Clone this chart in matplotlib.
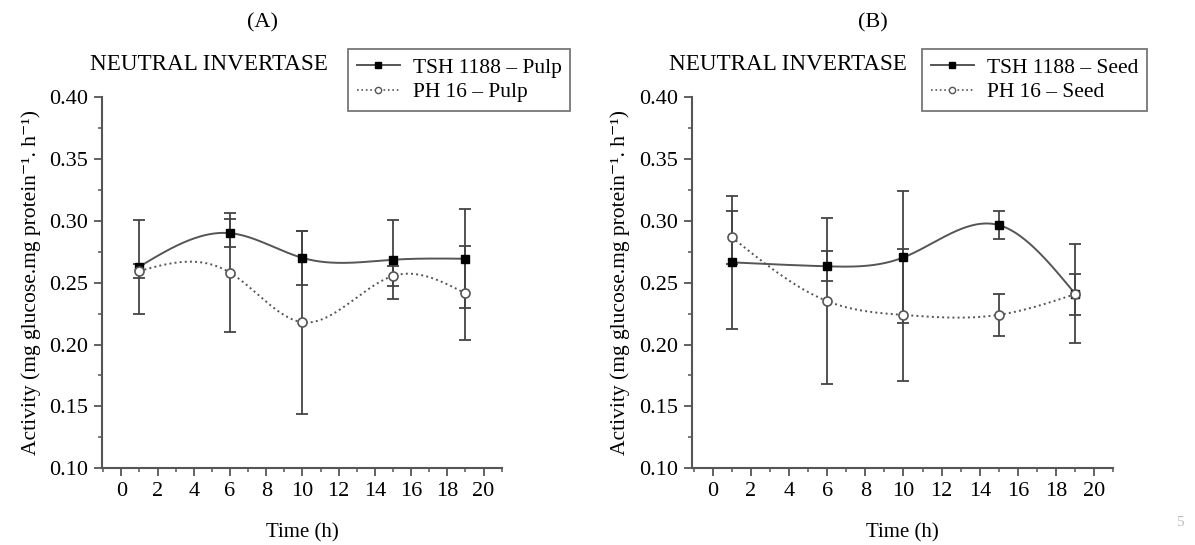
import numpy as np
import matplotlib
matplotlib.use("Agg")
import matplotlib.pyplot as plt
from matplotlib.ticker import MultipleLocator, FormatStrFormatter

plt.rcParams['font.family'] = ['Liberation Serif', 'DejaVu Serif']

# ---- data ----
time_h = [1, 6, 10, 15, 19]

pulp_tsh = [0.263, 0.290, 0.270, 0.2685, 0.2693]
pulp_tsh_err = [0.038, 0.0115, 0.022, 0.032, 0.040]
pulp_ph = [0.2594, 0.2581, 0.218, 0.2554, 0.2413]
pulp_ph_err = [0.006, 0.048, 0.074, 0.008, 0.038]

seed_tsh = [0.2664, 0.2632, 0.2704, 0.2965, 0.241]
seed_tsh_err = [0.054, 0.012, 0.0534, 0.0115, 0.040]
seed_ph = [0.2867, 0.2351, 0.2239, 0.224, 0.2407]
seed_ph_err = [0.0215, 0.067, 0.0534, 0.017, 0.0165]

panel_letters = ["(A)", "(B)"]
legend_a = ["TSH 1188 \u2013 Pulp", "PH 16 \u2013 Pulp"]
legend_b = ["TSH 1188 \u2013 Seed", "PH 16 \u2013 Seed"]
panel_title = "NEUTRAL INVERTASE"
ylabel = "Activity (mg glucose.mg protein\u207b\u00b9. h\u207b\u00b9)"
xlabel = "Time (h)"


def natural_spline(x, y, xs):
    x = np.asarray(x, float); y = np.asarray(y, float)
    n = len(x); h = np.diff(x)
    A = np.zeros((n, n)); b = np.zeros(n)
    A[0, 0] = 1; A[-1, -1] = 1
    for i in range(1, n - 1):
        A[i, i - 1] = h[i - 1]; A[i, i] = 2 * (h[i - 1] + h[i]); A[i, i + 1] = h[i]
        b[i] = 3 * ((y[i + 1] - y[i]) / h[i] - (y[i] - y[i - 1]) / h[i - 1])
    c = np.linalg.solve(A, b)
    bb = (y[1:] - y[:-1]) / h - h * (2 * c[:-1] + c[1:]) / 3
    d = (c[1:] - c[:-1]) / (3 * h)
    idx = np.clip(np.searchsorted(x, xs) - 1, 0, n - 2)
    dx = xs - x[idx]
    return y[idx] + bb[idx] * dx + c[idx] * dx ** 2 + d[idx] * dx ** 3


fig = plt.figure(figsize=(11.95, 5.45), dpi=100)
W, H = 1195, 545
axA = fig.add_axes([102.3 / W, (H - 468.3) / H, 399.4 / W, (468.3 - 97) / H])
axB = fig.add_axes([691.7 / W, (H - 468.3) / H, 421.6 / W, (468.3 - 97) / H])

gray = '#555555'
specs = [
    (axA, pulp_tsh, pulp_tsh_err, pulp_ph, pulp_ph_err, legend_a, (-1.05, 21.0), 348, 90),
    (axB, seed_tsh, seed_tsh_err, seed_ph, seed_ph_err, legend_b, (-1.1, 21.0), 922, 669),
]
for ax, tsh, tsh_e, ph, ph_e, labels, xl, legx, titx in specs:
    xs = np.linspace(min(time_h), max(time_h), 300)
    ax.errorbar(time_h, tsh, yerr=tsh_e, fmt='none', ecolor='#444444', elinewidth=1.3,
                capsize=4, capthick=1.3, zorder=2)
    ax.errorbar(time_h, ph, yerr=ph_e, fmt='none', ecolor='#444444', elinewidth=1.3,
                capsize=4, capthick=1.3, zorder=2)
    ax.plot(xs, natural_spline(time_h, tsh, xs), '-', color='#555555', lw=1.4, zorder=3)
    ax.plot(xs, natural_spline(time_h, ph, xs), ':', color='#555555', lw=1.4, zorder=3)
    ax.plot(time_h, tsh, 's', color='black', ms=6, zorder=4)
    ax.plot(time_h, ph, 'o', mfc='white', mec='#555555', mew=1.2, ms=6.5, zorder=4)

    h1, = ax.plot([], [], '-s', color='#555555', mfc='black', mec='black', ms=4.5, lw=1.4)
    h2, = ax.plot([], [], ':o', color='#555555', mfc='white', mec='#555555', ms=4.5, lw=1.2)
    leg = ax.legend([h1, h2], labels, loc='upper left',
                    bbox_to_anchor=(legx / W, 1 - 49 / H), bbox_transform=fig.transFigure,
                    fontsize=15.5, frameon=True, fancybox=False, edgecolor='#555555',
                    handlelength=2.0, handletextpad=0.6, labelspacing=0.2,
                    borderpad=0.4, borderaxespad=0, markerscale=1)
    leg.get_frame().set_linewidth(1.3)

    ax.set_xlim(*xl)
    ax.set_ylim(0.10, 0.40)
    ax.xaxis.set_major_locator(MultipleLocator(2))
    ax.xaxis.set_minor_locator(MultipleLocator(1))
    ax.yaxis.set_major_locator(MultipleLocator(0.05))
    ax.yaxis.set_minor_locator(MultipleLocator(0.025))
    ax.yaxis.set_major_formatter(FormatStrFormatter('%.2f'))
    for s in ['top', 'right']:
        ax.spines[s].set_visible(False)
    for s in ['left', 'bottom']:
        ax.spines[s].set_color(gray)
        ax.spines[s].set_linewidth(1.5)
    ax.tick_params(which='major', direction='out', length=6, width=1.3, color=gray,
                   labelsize=16, pad=4)
    ax.tick_params(which='minor', direction='out', length=3, width=1.1, color=gray)
    ax.set_xlabel(xlabel, fontsize=15, labelpad=16)
    ax.set_ylabel(ylabel, fontsize=15.5, labelpad=6)
    fig.text(titx / W, 1 - 64 / H, panel_title, fontsize=16.7, ha='left', va='center')

fig.text(263 / W, 1 - 23 / H, panel_letters[0], fontsize=16, ha='center', va='center')
fig.text(873 / W, 1 - 23 / H, panel_letters[1], fontsize=16, ha='center', va='center')
fig.text(1180 / W, 1 - 522 / H, "5", fontsize=11, color='#bbbbbb', ha='center', va='center')

fig.savefig('out.png', dpi=100)
